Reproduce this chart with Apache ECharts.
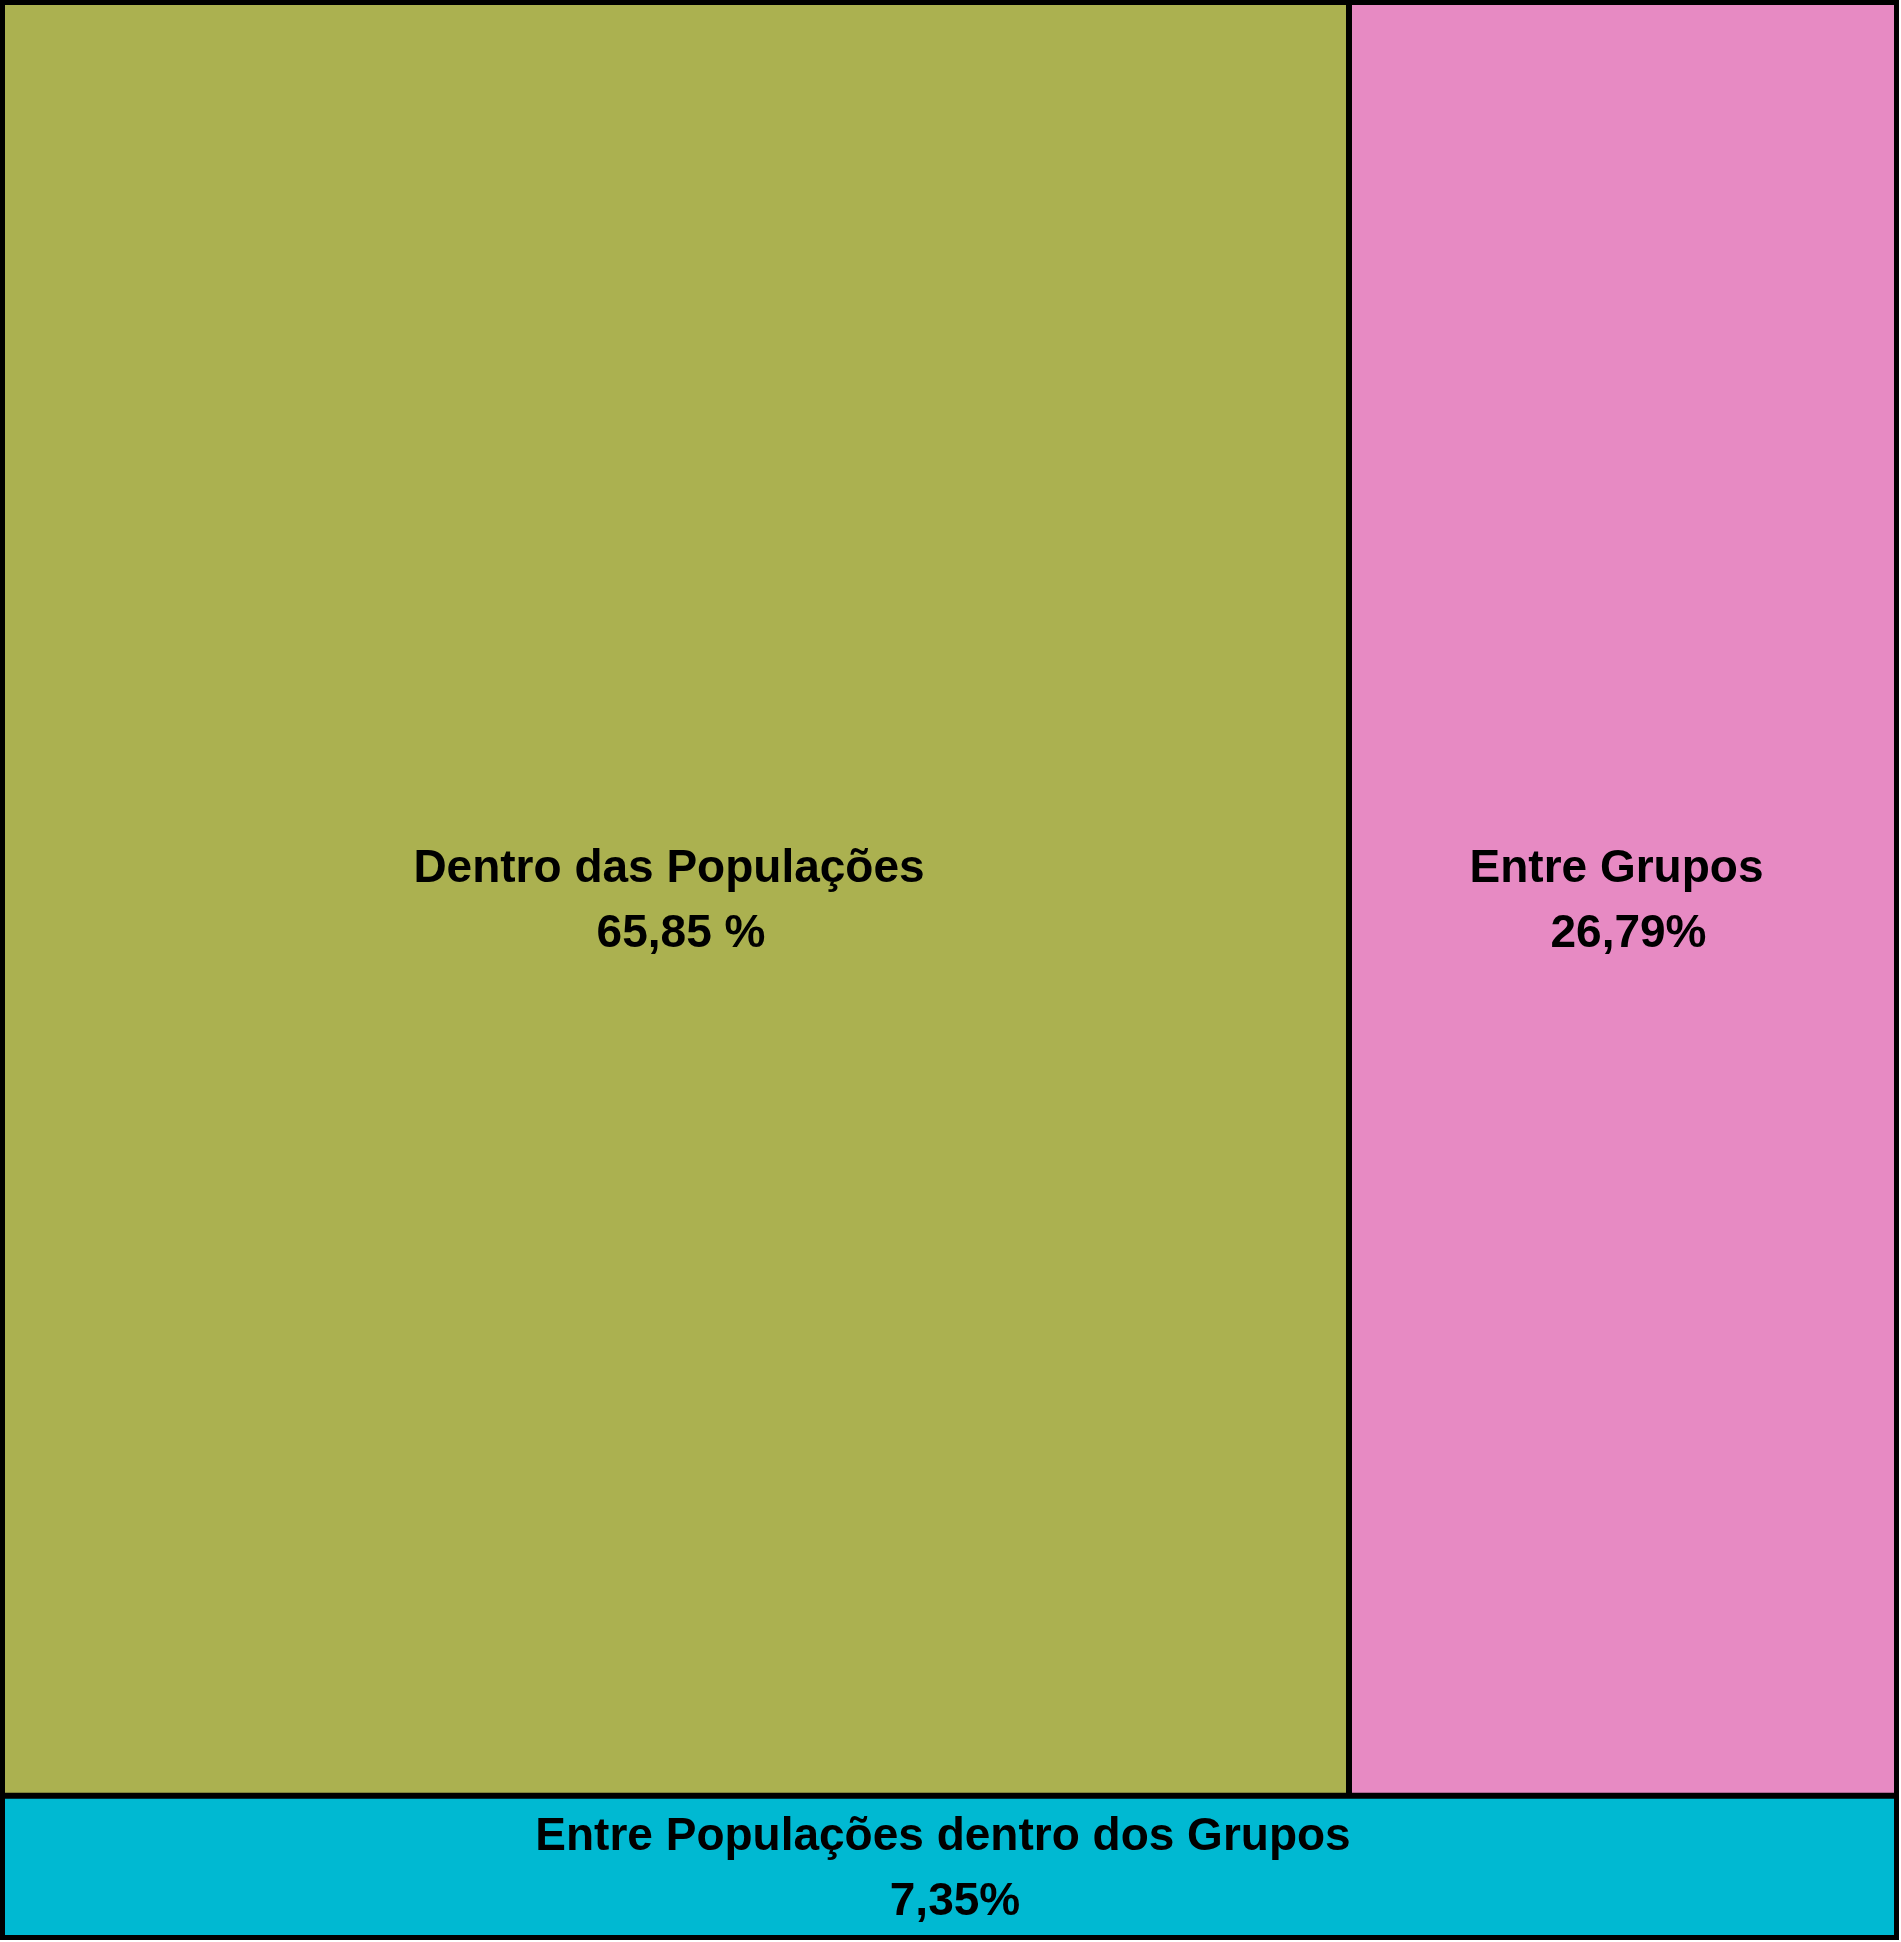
<!DOCTYPE html>
<html>
<head>
<meta charset="utf-8">
<script src="https://cdn.jsdelivr.net/npm/echarts@6/dist/echarts.min.js"></script>
<style>
html,body{margin:0;padding:0;background:#fff;}
#chart{width:1901px;height:1942px;}
</style>
</head>
<body>
<div id="chart"></div>
<script>
// Data
const groupName = 'Entre Grupos e Populações';
const categories = ['Dentro das Populações', 'Entre Grupos', 'Entre Populações dentro dos Grupos'];
const values = [65.85, 26.79, 7.35];
const valueLabels = ['65,85 %', '26,79%', '7,35%'];
const colors = ['#abb150', '#e78ac3', '#00b9d2'];

const LINE_H = 65;
const FONT_SIZE = 46;
const TEXT_NUDGE = 3;
const font = '"Liberation Sans", Arial, sans-serif';

const chart = echarts.init(document.getElementById('chart'), null, {renderer: 'canvas'});

function leaf(i, padTop) {
  return {
    name: categories[i],
    value: values[i],
    itemStyle: {color: colors[i]},
    label: {
      padding: [padTop || 0, 0, 0, 0],
      formatter: '{a|' + categories[i] + '}\n{b|' + valueLabels[i] + '}'
    }
  };
}

function buildData(pads) {
  return [
    {name: groupName, children: [leaf(0, pads[0]), leaf(1, pads[1])]},
    leaf(2, pads[2])
  ];
}

const option = {
  animation: false,
  series: [{
    type: 'treemap',
    left: 0,
    top: 0,
    width: 1899,
    height: 1940,
    roam: false,
    nodeClick: false,
    breadcrumb: {show: false},
    sort: 'desc',
    itemStyle: {borderColor: '#000', borderWidth: 0, gapWidth: 0},
    label: {
      show: true,
      position: ['50%', '50%'],
      align: 'center',
      verticalAlign: 'middle',
      padding: 0,
      overflow: 'none',
      fontFamily: font,
      fontWeight: 'bold',
      fontSize: FONT_SIZE,
      color: '#000',
      lineHeight: LINE_H,
      rich: {
        a: {fontFamily: font, fontWeight: 'bold', fontSize: FONT_SIZE, lineHeight: LINE_H, color: '#000', padding: [0, 13, 0, 0]},
        b: {fontFamily: font, fontWeight: 'bold', fontSize: FONT_SIZE, lineHeight: LINE_H, color: '#000', padding: [0, 0, 0, 11]}
      }
    },
    upperLabel: {show: false},
    levels: [
      {itemStyle: {borderColor: '#000', borderWidth: 5, gapWidth: 6}},
      {itemStyle: {borderColor: '#000', borderWidth: 0, gapWidth: 6}},
      {itemStyle: {borderColor: '#000', borderWidth: 0, gapWidth: 0}}
    ],
    data: buildData([0, 0, 0])
  }]
};
chart.setOption(option);

// Center the two-line labels vertically inside each leaf using the library's own layout
const seriesModel = chart.getModel().getSeriesByIndex(0);
const tree = seriesModel.getData().tree;
const pads = [0, 0, 0];
tree.root.eachNode(function (node) {
  if (node.children && node.children.length) return;
  const idx = categories.indexOf(node.name);
  if (idx < 0) return;
  const layout = node.getLayout();
  if (!layout) return;
  const h = layout.height - 2 * (layout.borderWidth || 0);
  pads[idx] = Math.min(Math.max((h - 2 * LINE_H) / 2 + TEXT_NUDGE, 0), Math.max(h - 2 * LINE_H, 0));
});
chart.setOption({series: [{data: buildData(pads)}]});
</script>
</body>
</html>
